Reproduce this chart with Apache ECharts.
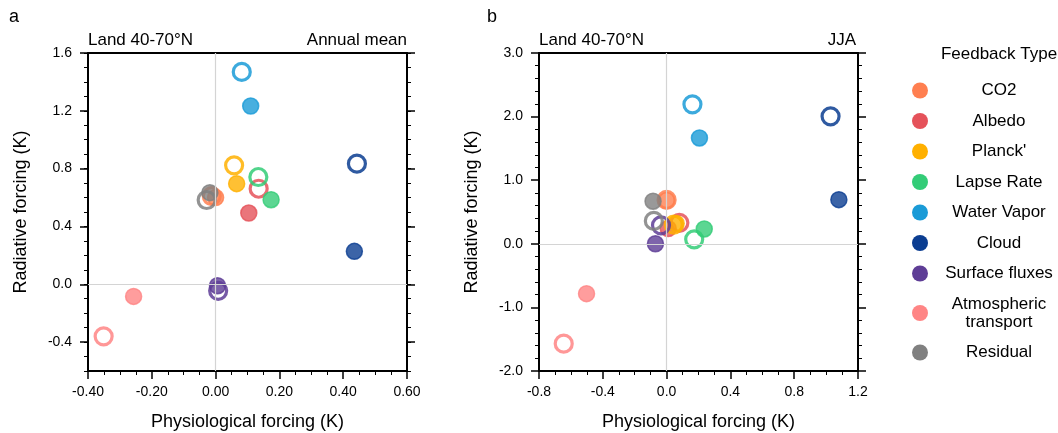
<!DOCTYPE html>
<html>
<head>
    <meta charset="UTF-8">
    <title>Feedback decomposition</title>
    <script src="https://cdn.jsdelivr.net/npm/echarts@6/dist/echarts.min.js"></script>
    <style>
        body, html {
            margin: 0;
            padding: 0;
            background: #fff;
        }
        #chart {
            width: 1058px;
            height: 433px;
        }
    </style>
</head>
<body>
<div id="chart"></div>
<script>
    // feedback types (legend order)
    var types = ['CO2', 'Albedo', "Planck'", 'Lapse Rate', 'Water Vapor', 'Cloud', 'Surface fluxes', 'Atmospheric transport', 'Residual'];
    var colors = ['#ff7f50', '#e5525a', '#ffb000', '#33cc77', '#1a9bd7', '#0b3d91', '#5e3d96', '#ff8585', '#808080'];

    // panel a, annual mean: [physiological, radiative]
    var annualFilled = [[0.0, 0.60], [0.104, 0.493], [0.066, 0.696], [0.174, 0.585], [0.110, 1.233],
        [0.435, 0.228], [0.006, -0.01], [-0.257, -0.084], [-0.018, 0.634]];
    var annualHollow = [[-0.012, 0.61], [0.135, 0.661], [0.058, 0.823], [0.134, 0.742], [0.082, 1.469],
        [0.443, 0.834], [0.008, -0.045], [-0.351, -0.36], [-0.028, 0.583]];

    // panel b, JJA
    var jjaFilled = [[0.0, 0.68], [0.01, 0.24], [0.06, 0.32], [0.236, 0.233], [0.206, 1.664],
        [1.08, 0.694], [-0.07, 0.0], [-0.502, -0.784], [-0.085, 0.67]];
    var jjaHollow = [[0.0, 0.69], [0.08, 0.33], [0.045, 0.30], [0.173, 0.07], [0.162, 2.193],
        [1.028, 2.004], [-0.035, 0.29], [-0.645, -1.57], [-0.08, 0.36]];

    // axis ticks
    var annualYMajor = [-0.4, 0.0, 0.4, 0.8, 1.2, 1.6];

    var chart = echarts.init(document.getElementById('chart'), null, {renderer: 'canvas'});

    var font = 'Liberation Sans, Arial, Helvetica, sans-serif';
    var lineBlack = {show: true, onZero: false, lineStyle: {color: '#000', width: 2}};
    var nameStyle = {color: '#000', fontSize: 18, fontFamily: font};

    function frameX(grid, min, max, interval, digits, bottom) {
        return {
            type: 'value', gridIndex: grid, position: bottom ? 'bottom' : 'top',
            min: min, max: max, interval: interval,
            axisLine: lineBlack,
            axisTick: {show: bottom, inside: false, length: 8, lineStyle: {color: '#000', width: 1.5}},
            minorTick: {show: bottom, splitNumber: 4, length: 4, lineStyle: {color: '#000', width: 1}},
            axisLabel: {
                show: bottom, margin: 14, color: '#000', fontSize: 14, fontFamily: font,
                formatter: function (v) { return v.toFixed(digits); }
            },
            splitLine: {show: false},
            name: bottom ? 'Physiological forcing (K)' : '',
            nameLocation: 'middle', nameGap: 42,
            nameTextStyle: nameStyle
        };
    }

    function minorY(grid, pos, min, max) {
        return {
            type: 'value', gridIndex: grid, position: pos, min: min, max: max, interval: 0.1,
            axisLine: {show: false, onZero: false},
            axisTick: {length: 4, lineStyle: {color: '#000', width: 1}},
            axisLabel: {show: false}, splitLine: {show: false}
        };
    }

    function hollow(c) {
        return {color: 'rgba(0,0,0,0)', borderColor: c, borderWidth: 3.2, opacity: 0.85};
    }

    function filled(c) {
        return {color: c, borderColor: c, borderWidth: 1.5, opacity: 0.8};
    }

    var series = [];
    types.forEach(function (t, i) {
        series.push({
            name: t, type: 'scatter', xAxisIndex: 0, yAxisIndex: 0,
            itemStyle: {color: colors[i]},
            data: [
                {value: annualHollow[i], symbolSize: 17, itemStyle: hollow(colors[i])},
                {value: annualFilled[i], symbolSize: 16, itemStyle: filled(colors[i])}
            ]
        });
        series.push({
            name: t, type: 'scatter', xAxisIndex: 2, yAxisIndex: 4,
            itemStyle: {color: colors[i]},
            data: [
                {value: jjaHollow[i], symbolSize: 17, itemStyle: hollow(colors[i])},
                {value: jjaFilled[i], symbolSize: 16, itemStyle: filled(colors[i])}
            ]
        });
    });

    // zero lines
    [[0, 0], [2, 4]].forEach(function (ax) {
        series.unshift({
            type: 'scatter', xAxisIndex: ax[0], yAxisIndex: ax[1], data: [], silent: true,
            markLine: {
                silent: true, symbol: 'none', label: {show: false},
                lineStyle: {color: '#d4d4d4', type: 'solid', width: 1.2},
                data: [{xAxis: 0}, {yAxis: 0}]
            }
        });
    });

    var titleText = {fontSize: 17, fontWeight: 'normal', color: '#000', fontFamily: font};

    var option = {
        backgroundColor: '#fff',
        animation: false,
        textStyle: {fontFamily: font},
        title: [
            {text: 'a', left: 9, top: 8, padding: 0, textStyle: {fontSize: 18, fontWeight: 'normal', color: '#000', fontFamily: font}},
            {text: 'b', left: 487, top: 8, padding: 0, textStyle: {fontSize: 18, fontWeight: 'normal', color: '#000', fontFamily: font}},
            {text: 'Land 40-70°N', left: 88, top: 32, padding: 0, textStyle: titleText},
            {text: 'Annual mean', right: 651, top: 32, padding: 0, textStyle: titleText},
            {text: 'Land 40-70°N', left: 539, top: 32, padding: 0, textStyle: titleText},
            {text: 'JJA', right: 202, top: 32, padding: 0, textStyle: titleText},
            {text: 'Feedback Type', left: 999, textAlign: 'center', top: 46, padding: 0, textStyle: titleText}
        ],
        legend: {
            data: types, orient: 'vertical', left: 912, top: 82, padding: 0,
            icon: 'circle', itemWidth: 16, itemHeight: 16, itemGap: 13.5, itemTextGap: 5,
            selectedMode: false,
            itemStyle: {opacity: 1, borderWidth: 0},
            formatter: function (name) {
                return name === 'Atmospheric transport'
                    ? '{c|Atmospheric}\n{c|transport}' : '{c|' + name + '}';
            },
            textStyle: {
                color: '#000', fontSize: 17, fontFamily: font,
                rich: {c: {width: 132, align: 'center', fontSize: 17, lineHeight: 18, color: '#000', fontFamily: font}}
            }
        },
        grid: [
            {left: 88, right: 651, top: 53, bottom: 62, outerBoundsMode: 'none', containLabel: false},
            {left: 539, right: 200, top: 53, bottom: 62, outerBoundsMode: 'none', containLabel: false}
        ],
        xAxis: [
            frameX(0, -0.4, 0.6, 0.2, 2, true),
            frameX(0, -0.4, 0.6, 0.2, 2, false),
            frameX(1, -0.8, 1.2, 0.4, 1, true),
            frameX(1, -0.8, 1.2, 0.4, 1, false)
        ],
        yAxis: [
            {
                type: 'value', gridIndex: 0, position: 'left', min: -0.6, max: 1.6, interval: 0.1,
                axisLine: lineBlack,
                axisTick: {length: 8, customValues: annualYMajor, lineStyle: {color: '#000', width: 1.5}},
                axisLabel: {
                    customValues: annualYMajor, margin: 16, color: '#000', fontSize: 14, fontFamily: font,
                    formatter: function (v) { return v.toFixed(1); }
                },
                splitLine: {show: false},
                name: 'Radiative forcing (K)', nameLocation: 'middle', nameGap: 58,
                nameTextStyle: nameStyle
            },
            minorY(0, 'left', -0.6, 1.6),
            {
                type: 'value', gridIndex: 0, position: 'right', min: -0.6, max: 1.6, interval: 0.1,
                axisLine: lineBlack,
                axisTick: {length: 8, customValues: annualYMajor, lineStyle: {color: '#000', width: 1.5}},
                axisLabel: {show: false}, splitLine: {show: false}
            },
            minorY(0, 'right', -0.6, 1.6),
            {
                type: 'value', gridIndex: 1, position: 'left', min: -2, max: 3, interval: 1,
                axisLine: lineBlack,
                axisTick: {length: 8, lineStyle: {color: '#000', width: 1.5}},
                minorTick: {show: true, splitNumber: 5, length: 4, lineStyle: {color: '#000', width: 1}},
                axisLabel: {
                    margin: 16, color: '#000', fontSize: 14, fontFamily: font,
                    formatter: function (v) { return v.toFixed(1); }
                },
                splitLine: {show: false},
                name: 'Radiative forcing (K)', nameLocation: 'middle', nameGap: 58,
                nameTextStyle: nameStyle
            },
            {
                type: 'value', gridIndex: 1, position: 'right', min: -2, max: 3, interval: 1,
                axisLine: lineBlack,
                axisTick: {length: 8, lineStyle: {color: '#000', width: 1.5}},
                minorTick: {show: true, splitNumber: 5, length: 4, lineStyle: {color: '#000', width: 1}},
                axisLabel: {show: false}, splitLine: {show: false}
            }
        ],
        series: series
    };

    chart.setOption(option);
</script>
</body>
</html>
